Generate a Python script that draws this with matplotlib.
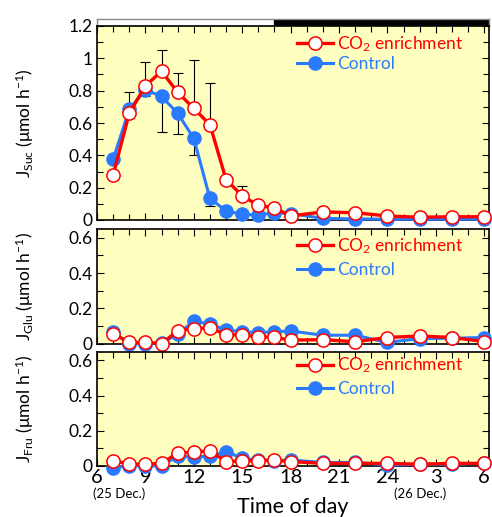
import numpy as np
import matplotlib
matplotlib.use("Agg")
import matplotlib.pyplot as plt
from matplotlib.ticker import MultipleLocator, FuncFormatter

plt.rcParams['font.family'] = ['Lato', 'DejaVu Sans']
plt.rcParams['mathtext.fontset'] = 'custom'
plt.rcParams['mathtext.rm'] = 'Lato'
plt.rcParams['mathtext.it'] = 'Lato'

# sampling times (hours from 0:00 on 25 Dec.)
hours = [7, 8, 9, 10, 11, 12, 13, 14, 15, 16, 17, 18, 20, 22, 24, 26, 28, 30]

suc_co2 = [0.28, 0.66, 0.83, 0.92, 0.79, 0.69, 0.59, 0.25, 0.15, 0.09, 0.075, 0.025,
           0.05, 0.045, 0.025, 0.017, 0.02, 0.02]
suc_ctrl = [0.375, 0.685, 0.805, 0.765, 0.66, 0.505, 0.134, 0.056, 0.035, 0.031, 0.045, 0.04,
            0.01, 0.007, 0.005, 0.005, 0.005, 0.005]
# error bars: upper on CO2 series, lower on control series
suc_co2_err = [0, 0.13, 0.15, 0.13, 0.12, 0.30, 0.26, 0, 0.06, 0, 0, 0,
               0, 0, 0, 0, 0, 0]
suc_ctrl_err = [0, 0, 0.04, 0.22, 0.13, 0.10, 0.05, 0, 0, 0, 0, 0,
                0, 0, 0, 0, 0, 0]

glu_co2 = [0.056, 0.006, 0.006, 0.0, 0.071, 0.084, 0.09, 0.049, 0.049, 0.038, 0.035, 0.019,
           0.022, 0.01, 0.034, 0.043, 0.034, 0.011]
glu_ctrl = [0.067, -0.003, 0.0, 0.002, 0.053, 0.128, 0.109, 0.077, 0.067, 0.061, 0.067, 0.071,
            0.047, 0.047, 0.006, 0.028, 0.03, 0.034]

fru_co2 = [0.031, 0.01, 0.01, 0.015, 0.073, 0.079, 0.086, 0.025, 0.028, 0.031, 0.034, 0.025,
           0.015, 0.015, 0.015, 0.01, 0.015, 0.015]
fru_ctrl = [-0.01, 0.002, 0.0, 0.0, 0.057, 0.05, 0.057, 0.082, 0.044, 0.034, 0.03, 0.034,
            0.02, 0.02, 0.006, 0.01, 0.01, 0.015]

xticks = [6, 9, 12, 15, 18, 21, 24, 27, 30]
xticklabels = ["6", "9", "12", "15", "18", "21", "24", "3", "6"]
lights_off = 17

RED = '#FF0000'
BLUE = '#2A7AFF'
BG = '#FFFFC0'

fig = plt.figure(figsize=(4.92, 5.17), dpi=100)
W, H = 492, 517
left, right = 97, 489


def px_axes(top, bottom):
    return fig.add_axes([left / W, 1 - bottom / H, (right - left) / W, (bottom - top) / H])


ax_bar = px_axes(19, 26)
ax1 = px_axes(26, 220)
ax2 = px_axes(229, 343.5)
ax3 = px_axes(351.5, 466)

# light/dark bar
ax_bar.set_xlim(6, 30.3)
ax_bar.set_ylim(0, 1)
ax_bar.axvspan(lights_off, 30.3, color='black')
ax_bar.set_xticks([])
ax_bar.set_yticks([])
for s in ax_bar.spines.values():
    s.set_color('#888888')
    s.set_linewidth(1)

panels = [
    (ax1, suc_co2, suc_ctrl, 1.2, 'Suc', 1.02, 0.1),
    (ax2, glu_co2, glu_ctrl, 0.65, 'Glu', 1.04, 0.35),
    (ax3, fru_co2, fru_ctrl, 0.65, 'Fru', 1.07, 0.35),
]

for ax, co2, ctrl, ymax, name, leg_y, leg_sp in panels:
    ax.set_facecolor(BG)
    ax.set_xlim(6, 30.3)
    ax.set_ylim(0, ymax)
    if ax is ax1:
        ax.errorbar(hours, co2, yerr=[np.zeros(len(hours)), suc_co2_err], fmt='none',
                    ecolor='black', elinewidth=0.8, capsize=3.5, capthick=0.8, zorder=2)
        ax.errorbar(hours, ctrl, yerr=[suc_ctrl_err, np.zeros(len(hours))], fmt='none',
                    ecolor='black', elinewidth=0.8, capsize=3.5, capthick=0.8, zorder=2)
    ax.plot(hours, ctrl, color=BLUE, lw=2.2, marker='o', ms=9.5, mfc=BLUE, mec=BLUE,
            label='Control', zorder=3, clip_on=False)
    ax.plot(hours, co2, color=RED, lw=2.4, marker='o', ms=9.5, mfc='white', mec=RED, mew=1.1,
            label='CO$_2$ enrichment', zorder=4, clip_on=False)

    ax.xaxis.set_major_locator(MultipleLocator(3))
    ax.xaxis.set_minor_locator(MultipleLocator(1))
    ax.yaxis.set_major_locator(MultipleLocator(0.2))
    ax.yaxis.set_minor_locator(MultipleLocator(0.1))
    ax.yaxis.set_major_formatter(FuncFormatter(lambda v, p: '%g' % round(v, 2)))
    ax.tick_params(which='both', direction='in', top=True, right=True, width=0.8, color='black')
    ax.tick_params(which='major', length=5, labelsize=12.5, pad=3)
    ax.tick_params(which='minor', length=4)
    for s in ax.spines.values():
        s.set_linewidth(1.2)

    ax.set_ylabel(r'$\mathrm{J}_{\mathrm{%s}}$ (μmol h$^{-1}$)' % name, fontsize=12.5)
    ax.yaxis.set_label_coords(-0.155, 0.5)

    h, l = ax.get_legend_handles_labels()
    leg = ax.legend(h[::-1], l[::-1], loc='upper right', bbox_to_anchor=(0.965, leg_y),
                    frameon=False, fontsize=12.5, handlelength=2.1, handletextpad=0.2,
                    labelspacing=leg_sp, borderaxespad=0.3)
    for txt, col in zip(leg.get_texts(), [RED, BLUE]):
        txt.set_color(col)

    if ax is not ax3:
        ax.set_xticklabels([])

ax3.set_xticks(xticks)
ax3.set_xticklabels(xticklabels)
ax3.tick_params(axis='x', labelsize=14.5, pad=2)
ax3.text(7.4, -0.155, '(25 Dec.)', ha='center', va='center', fontsize=9.5)
ax3.text(26.0, -0.155, '(26 Dec.)', ha='center', va='center', fontsize=9.5)
ax3.set_xlabel('Time of day', fontsize=15.5, labelpad=8)

fig.savefig('out.png', dpi=100)
